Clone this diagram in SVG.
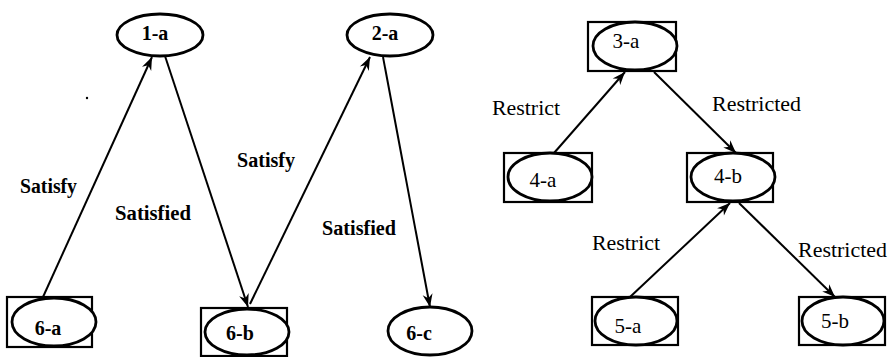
<svg xmlns="http://www.w3.org/2000/svg" width="888" height="357" viewBox="0 0 888 357">
  <style>
    .box { fill: none; stroke: #000; stroke-width: 2.2; }
    .oval { fill: #fff; stroke: #000; stroke-width: 2.8; }
    .edge { fill: none; stroke: #000; stroke-width: 2; marker-end: url(#barb); }
    .lbl-b { font-weight: bold; font-size: 20px; }
    .lbl-r { font-size: 21px; }
    .id-b { font-weight: bold; font-size: 20px; text-anchor: middle; }
    .id-r { font-size: 21px; text-anchor: middle; }
  </style>
  <defs>
    <marker id="barb" markerUnits="userSpaceOnUse" markerWidth="16" markerHeight="12" viewBox="-14 -6 16 12" refX="0" refY="0" orient="auto">
      <path d="M0,0 L-13,-5 L-9,0 L-13,5 Z" fill="#000"/>
    </marker>
  </defs>
  <rect width="888" height="357" fill="#fff"/>

  <!-- connectors -->
  <g id="connectors">
    <line class="edge" x1="43" y1="297" x2="152" y2="57"/>
    <line class="edge" x1="165" y1="56" x2="248" y2="307"/>
    <line class="edge" x1="250" y1="304" x2="370" y2="57"/>
    <line class="edge" x1="383" y1="57" x2="430" y2="307"/>
    <line class="edge" x1="554" y1="153" x2="625" y2="72"/>
    <line class="edge" x1="654" y1="72" x2="736" y2="153"/>
    <line class="edge" x1="630" y1="297" x2="730" y2="203"/>
    <line class="edge" x1="739" y1="203" x2="835" y2="297"/>
  </g>

  <!-- all lettering set in a Times-metric serif -->
  <g font-family="'Liberation Serif', 'DejaVu Serif', serif" fill="#000">
    <!-- edge labels -->
    <g id="edge-labels">
      <text class="lbl-b" x="20" y="193" textLength="57" lengthAdjust="spacingAndGlyphs">Satisfy</text>
      <text class="lbl-b" x="115" y="220" textLength="76" lengthAdjust="spacingAndGlyphs">Satisfied</text>
      <text class="lbl-b" x="237" y="167" textLength="58" lengthAdjust="spacingAndGlyphs">Satisfy</text>
      <text class="lbl-b" x="322" y="235" textLength="74" lengthAdjust="spacingAndGlyphs">Satisfied</text>
      <text class="lbl-r" x="492" y="115" textLength="68" lengthAdjust="spacingAndGlyphs">Restrict</text>
      <text class="lbl-r" x="712" y="111" textLength="89" lengthAdjust="spacingAndGlyphs">Restricted</text>
      <text class="lbl-r" x="592" y="250" textLength="68" lengthAdjust="spacingAndGlyphs">Restrict</text>
      <text class="lbl-r" x="798" y="257" textLength="89" lengthAdjust="spacingAndGlyphs">Restricted</text>
    </g>

    <!-- stray speck -->
    <circle cx="87" cy="98" r="1.2" fill="#000"/>

    <!-- nodes -->
    <g id="n1a">
      <ellipse class="oval" cx="160" cy="35" rx="43" ry="21"/>
      <text class="id-b" x="155" y="40">1-a</text>
    </g>
    <g id="n2a">
      <ellipse class="oval" cx="390" cy="35" rx="43" ry="21"/>
      <text class="id-b" x="385" y="40">2-a</text>
    </g>
    <g id="n6a">
      <rect class="box" x="7" y="297" width="85" height="50"/>
      <ellipse class="oval" cx="54" cy="322" rx="42" ry="24"/>
      <text class="id-b" x="48" y="335">6-a</text>
    </g>
    <g id="n6b">
      <rect class="box" x="201" y="308" width="86" height="48"/>
      <ellipse class="oval" cx="247" cy="332" rx="42" ry="23"/>
      <text class="id-b" x="240" y="340">6-b</text>
    </g>
    <g id="n6c">
      <ellipse class="oval" cx="430" cy="331" rx="42" ry="24"/>
      <text class="id-b" x="419" y="340">6-c</text>
    </g>
    <g id="n3a">
      <rect class="box" x="588" y="22" width="88" height="49"/>
      <ellipse class="oval" cx="635" cy="46" rx="42" ry="24"/>
      <text class="id-r" x="626" y="48">3-a</text>
    </g>
    <g id="n4a">
      <rect class="box" x="504" y="153" width="88" height="49"/>
      <ellipse class="oval" cx="550" cy="177" rx="42" ry="24"/>
      <text class="id-r" x="543" y="187">4-a</text>
    </g>
    <g id="n4b">
      <rect class="box" x="687" y="153" width="86" height="49"/>
      <ellipse class="oval" cx="733" cy="177" rx="42" ry="24"/>
      <text class="id-r" x="728" y="183">4-b</text>
    </g>
    <g id="n5a">
      <rect class="box" x="592" y="297" width="86" height="48"/>
      <ellipse class="oval" cx="636" cy="321" rx="41" ry="24"/>
      <text class="id-r" x="628" y="333">5-a</text>
    </g>
    <g id="n5b">
      <rect class="box" x="799" y="297" width="86" height="48"/>
      <ellipse class="oval" cx="843" cy="321" rx="41" ry="24"/>
      <text class="id-r" x="835" y="328">5-b</text>
    </g>
  </g>
</svg>
